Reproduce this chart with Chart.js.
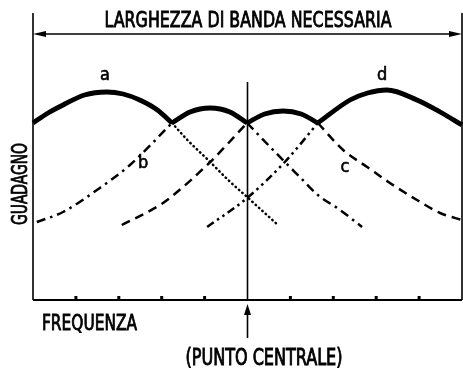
<!DOCTYPE html>
<html>
<head>
<meta charset="utf-8">
<script src="https://cdn.jsdelivr.net/npm/chart.js@4.4.1/dist/chart.umd.min.js"></script>
<style>
  html, body { margin: 0; padding: 0; background: #fff; }
  #wrap { width: 463px; height: 372px; }
</style>
</head>
<body>
<div id="wrap"><canvas id="chart" width="463" height="372"></canvas></div>
<script>
// Guadagno vs frequenza: quattro curve a, b, c, d e loro inviluppo
const titleText = 'LARGHEZZA DI BANDA NECESSARIA';
const xTitle = 'FREQUENZA';
const yTitle = 'GUADAGNO';
const centerTitle = '(PUNTO CENTRALE)';
const tickValues = [1, 2, 3, 4, 6, 7, 8, 9];
const centerX = 5;

const aX = [0, 0.35, 0.7, 1.2, 1.72, 2.1, 2.49, 2.9, 3.24, 3.6, 4.13, 4.55, 4.99, 5.71];
const aY = [177, 187, 195, 205, 208, 206, 200, 190, 177, 160, 138, 120, 103, 75];
const bX = [0.09, 0.7, 1.49, 2.26, 3.24, 3.66, 4.13, 4.59, 4.99, 5.87, 6.22, 6.64, 7.16, 7.67];
const bY = [78, 88, 110, 135, 177, 188, 192, 188, 177, 138, 123, 105, 90, 73];
const cX = [2.07, 2.96, 3.19, 4.13, 4.99, 5.4, 5.83, 6.25, 6.64, 7.23, 7.79, 8.32, 8.95, 9.49, 10];
const cY = [75, 95, 102, 138, 177, 186, 189, 186, 177, 150, 133, 117, 100, 87, 80];
const dX = [4.06, 4.99, 5.87, 6.64, 7.39, 7.8, 8.25, 8.95, 9.49, 10];
const dY = [73, 102, 138, 177, 200, 207, 210, 200, 188, 175];
const crossX = [3.24, 4.99, 6.64];

function part(xs, ys, from, to) {
  const pts = [];
  xs.forEach((x, i) => { if (x >= from - 1e-9 && x <= to + 1e-9) pts.push({ x: x, y: ys[i] }); });
  return pts;
}

const solid = { borderWidth: 4.8, borderDash: [] };
const dotted = { borderWidth: 2.5, borderDash: [0.5, 4], borderCapStyle: 'round' };
const dashDot = { borderWidth: 2.5, borderDash: [9, 5, 2.5, 5] };
const dashed = { borderWidth: 2.5, borderDash: [9, 6] };
const dashDotDot = { borderWidth: 2.5, borderDash: [8, 4, 2.5, 4, 2.5, 4] };

function ds(data, style) {
  return Object.assign({
    data: data, borderColor: '#000', backgroundColor: '#000', pointRadius: 0,
    cubicInterpolationMode: 'monotone', fill: false, clip: 4, borderCapStyle: 'butt'
  }, style);
}

const datasets = [
  ds(part(aX, aY, 0, crossX[0]), solid),
  ds(part(aX, aY, crossX[0], 10), dotted),
  ds(part(bX, bY, 0, crossX[0]), dashDot),
  ds(part(bX, bY, crossX[0], crossX[1]), solid),
  ds(part(bX, bY, crossX[1], 10), dashDot),
  ds(part(cX, cY, 0, crossX[1]), dashed),
  ds(part(cX, cY, crossX[1], crossX[2]), solid),
  ds(part(cX, cY, crossX[2], 10), dashed),
  ds(part(dX, dY, 0, crossX[2]), dashDotDot),
  ds(part(dX, dY, crossX[2], 10), solid)
];

const FONT = '"DejaVu Sans Condensed", "Liberation Sans Narrow", "DejaVu Sans", sans-serif';

// draw text stretched to a given width and cap height, centred on (cx, cy)
function fitText(ctx, text, cx, cy, w, h, rot) {
  ctx.save();
  ctx.font = '100px ' + FONT;
  const m = ctx.measureText('H');
  const cap = m.actualBoundingBoxAscent;
  const tw = ctx.measureText(text).width;
  ctx.translate(cx, cy);
  if (rot) ctx.rotate(rot);
  ctx.scale(w / tw, h / cap);
  ctx.textAlign = 'center';
  ctx.textBaseline = 'alphabetic';
  ctx.fillStyle = '#000';
  ctx.strokeStyle = '#000';
  ctx.lineWidth = 4;
  ctx.fillText(text, 0, cap / 2);
  ctx.strokeText(text, 0, cap / 2);
  ctx.restore();
}

function label(ctx, text, x, y) {
  ctx.save();
  ctx.font = '18px ' + FONT;
  ctx.fillStyle = '#000';
  ctx.strokeStyle = '#000';
  ctx.lineWidth = 0.6;
  ctx.textAlign = 'center';
  ctx.textBaseline = 'middle';
  ctx.fillText(text, x, y);
  ctx.strokeText(text, x, y);
  ctx.restore();
}

const framePlugin = {
  id: 'frame',
  afterDatasetsDraw(chart) {
    const ctx = chart.ctx;
    const a = chart.chartArea;
    const xs = chart.scales.x, ys = chart.scales.y;
    ctx.save();
    ctx.strokeStyle = '#000';
    ctx.fillStyle = '#000';
    // side lines
    ctx.lineWidth = 1.6;
    ctx.beginPath();
    ctx.moveTo(a.left, a.top - 1); ctx.lineTo(a.left, a.bottom);
    ctx.moveTo(a.right, a.top - 1); ctx.lineTo(a.right, a.bottom);
    ctx.stroke();
    // bottom axis
    ctx.lineWidth = 2;
    ctx.beginPath();
    ctx.moveTo(a.left, a.bottom); ctx.lineTo(a.right, a.bottom);
    ctx.stroke();
    // tick bumps
    tickValues.forEach(v => {
      const px = xs.getPixelForValue(v);
      ctx.fillRect(px - 1.5, a.bottom - 4, 3, 4);
    });
    // centre line
    const cx = xs.getPixelForValue(centerX);
    ctx.lineWidth = 1.6;
    ctx.beginPath();
    ctx.moveTo(cx, ys.getPixelForValue(218)); ctx.lineTo(cx, a.bottom);
    ctx.stroke();
    // arrow under the axis
    ctx.beginPath();
    ctx.moveTo(cx, a.bottom + 38); ctx.lineTo(cx, a.bottom + 12);
    ctx.stroke();
    ctx.beginPath();
    ctx.moveTo(cx, a.bottom + 4);
    ctx.lineTo(cx - 3.5, a.bottom + 15);
    ctx.lineTo(cx + 3.5, a.bottom + 15);
    ctx.closePath();
    ctx.fill();
    // bandwidth arrow
    const ay = a.top + 20;
    ctx.beginPath();
    ctx.moveTo(a.left + 8, ay); ctx.lineTo(a.right - 8, ay);
    ctx.stroke();
    ctx.beginPath();
    ctx.moveTo(a.left, ay); ctx.lineTo(a.left + 13, ay - 3); ctx.lineTo(a.left + 13, ay + 3); ctx.closePath();
    ctx.moveTo(a.right, ay); ctx.lineTo(a.right - 13, ay - 3); ctx.lineTo(a.right - 13, ay + 3); ctx.closePath();
    ctx.fill();
    ctx.restore();

    fitText(ctx, titleText, (a.left + a.right) / 2 + 0.5, a.top + 5.5, 287, 15);
    fitText(ctx, yTitle, 19.5, 184, 82, 15, -Math.PI / 2);
    fitText(ctx, xTitle, 89.5, a.bottom + 22.5, 95, 15);
    fitText(ctx, centerTitle, cx + 16.5, a.bottom + 56.5, 157, 17);

    label(ctx, 'a', xs.getPixelForValue(1.68), ys.getPixelForValue(225));
    label(ctx, 'b', xs.getPixelForValue(2.57), ys.getPixelForValue(137));
    label(ctx, 'c', xs.getPixelForValue(7.27), ys.getPixelForValue(133));
    label(ctx, 'd', xs.getPixelForValue(8.14), ys.getPixelForValue(225));
  }
};

new Chart(document.getElementById('chart'), {
  type: 'line',
  data: { datasets },
  options: {
    responsive: false,
    animation: false,
    events: [],
    layout: { padding: { left: 33, right: 1, top: 14, bottom: 72 } },
    plugins: { legend: { display: false }, tooltip: { enabled: false }, title: { display: false } },
    scales: {
      x: { type: 'linear', min: 0, max: 10, display: false },
      y: { type: 'linear', min: 0, max: 286, display: false }
    }
  },
  plugins: [framePlugin]
});
</script>
</body>
</html>
